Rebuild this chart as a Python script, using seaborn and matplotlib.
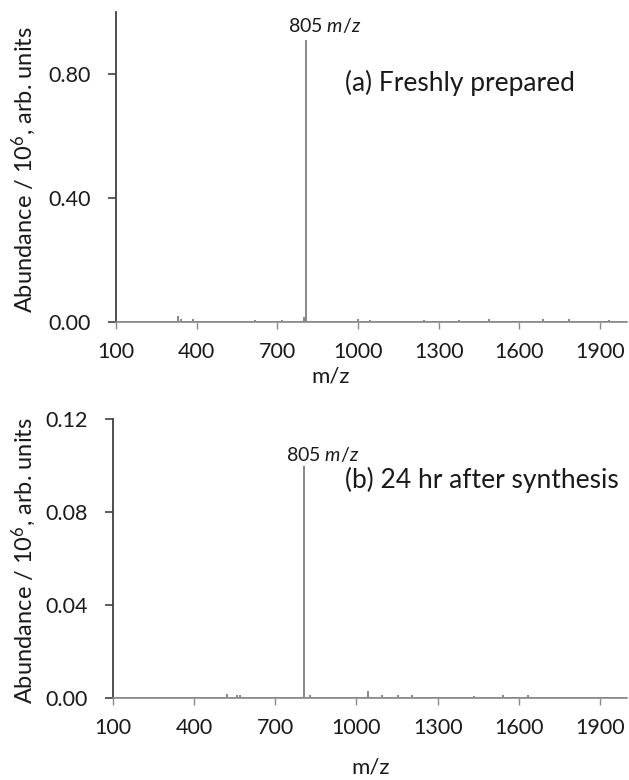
import numpy as np
import pandas as pd
import matplotlib
matplotlib.use("Agg")
import matplotlib.pyplot as plt
import seaborn as sns

# ---- data ----
mz_a = [331, 340, 387, 618, 718, 800, 805, 808, 998, 1046, 1244, 1375, 1487, 1688, 1785, 1934]
ab_a = [0.015, 0.006, 0.006, 0.003, 0.004, 0.012, 0.905, 0.020, 0.005, 0.004, 0.003, 0.004, 0.005, 0.006, 0.005, 0.004]

mz_b = [522, 559, 570, 805, 830, 1041, 1096, 1152, 1207, 1433, 1541, 1633]
ab_b = [0.0012, 0.0008, 0.0008, 0.0993, 0.0010, 0.0026, 0.0008, 0.0008, 0.0010, 0.0006, 0.0009, 0.0007]

xticks = [100, 400, 700, 1000, 1300, 1600, 1900]
yticks_a = [0.00, 0.40, 0.80]
yticks_b = [0.00, 0.04, 0.08, 0.12]
titles = ["(a) Freshly prepared", "(b) 24 hr after synthesis"]
peak_label = r"805 $m/z$"


def stick_frame(mz, ab, lo=100, hi=2000):
    xs, ys = [lo], [0.0]
    for m, a in sorted(zip(mz, ab)):
        xs += [m, m, m]
        ys += [0.0, a, 0.0]
    xs.append(hi)
    ys.append(0.0)
    return pd.DataFrame({"mz": xs, "ab": ys})


sns.set_style("white")
plt.rcParams["font.family"] = ["Lato", "DejaVu Sans"]
plt.rcParams["mathtext.fontset"] = "custom"
plt.rcParams["mathtext.rm"] = "Lato"
plt.rcParams["mathtext.it"] = "Lato:italic"

fig = plt.figure(figsize=(6.29, 7.80), dpi=100)
W, H = 629, 780
PX = 72 / 100  # points per pixel
axA = fig.add_axes([116 / W, 1 - 322 / H, (627 - 116) / W, (322 - 12) / H])
axB = fig.add_axes([113 / W, 1 - 698 / H, (627 - 113) / W, (698 - 419) / H])

# ax, mz, ab, ylim, yticks, peak, title, title pos (px), label gap (px), ylabel x (px), ylabel y (px)
spec = [(axA, mz_a, ab_a, (0, 1.0), yticks_a, 0.905, titles[0], (345, 83), 9, 24, 170),
        (axB, mz_b, ab_b, (0, 0.12), yticks_b, 0.0993, titles[1], (345, 480), 6, 24, 561)]

line_col = "#8a8a8a"
txt_col = "#1a1a1a"
for ax, mz, ab, ylim, yt, peak, title, tpos, gap, ylx, yly in spec:
    df = stick_frame(mz, ab)
    sns.lineplot(data=df, x="mz", y="ab", sort=False, estimator=None,
                 color=line_col, linewidth=1.3, ax=ax)
    ax.set_xlim(100, 2000)
    ax.set_ylim(*ylim)
    ax.set_xticks(xticks)
    ax.set_yticks(yt)
    ax.set_yticklabels([f"{v:.2f}" for v in yt])
    for s in ["top", "right"]:
        ax.spines[s].set_visible(False)
    ax.spines["left"].set_color("#404040")
    ax.spines["left"].set_linewidth(1.3)
    ax.spines["bottom"].set_color("#8a8a8a")
    ax.spines["bottom"].set_linewidth(1.2)
    ax.tick_params(axis="y", direction="out", length=8 * PX, width=1.2, color="#404040",
                   labelsize=15.5, labelcolor=txt_col, pad=17 * PX, left=True)
    ax.tick_params(axis="x", direction="out", length=7 * PX, width=1.0, color="#8a8a8a",
                   labelsize=15.5, labelcolor=txt_col, pad=13 * PX, bottom=True)
    ax.set_ylabel(r"Abundance / 10$^6$, arb. units", fontsize=17, color=txt_col)
    ax.yaxis.label.set_verticalalignment("center")
    bb = ax.get_position()
    ax.yaxis.set_label_coords((ylx / W - bb.x0) / bb.width,
                              ((1 - yly / H) - bb.y0) / bb.height)
    ax.set_xlabel("")
    ax.annotate(peak_label, xy=(805, peak), xytext=(-18 * PX, gap * PX),
                textcoords="offset points", ha="left", va="baseline",
                fontsize=14, color=txt_col)
    fig.text(tpos[0] / W, 1 - tpos[1] / H, title, fontsize=19, ha="left", va="center",
             color=txt_col)

fig.text(331 / W, 1 - 376 / H, "m/z", fontsize=16, ha="center", va="center", color=txt_col)
fig.text(371 / W, 1 - 768 / H, "m/z", fontsize=16, ha="center", va="center", color=txt_col)

fig.savefig("out.png", dpi=100)
